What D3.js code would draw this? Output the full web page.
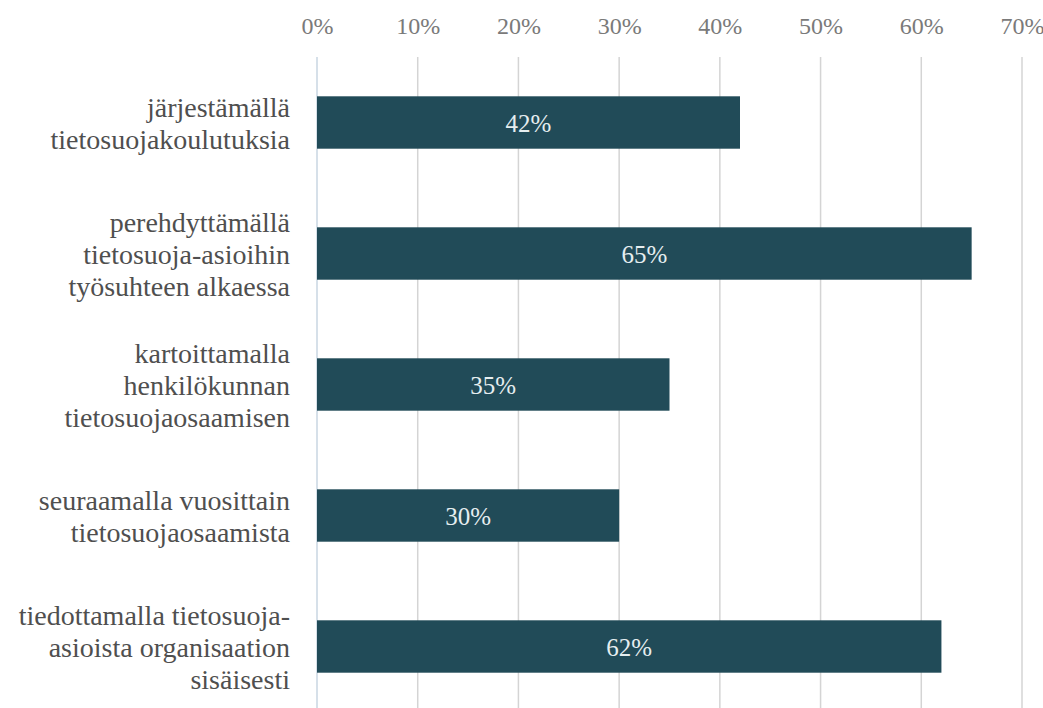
<!DOCTYPE html>
<html>
<head>
<meta charset="utf-8">
<script src="https://cdn.jsdelivr.net/npm/d3@7"></script>
<style>
  body { margin: 0; background: #fff; }
</style>
</head>
<body>
<div id="chart"></div>
<script>
var svgWidth = 1043;
var svgHeight = 708;
var fontFam = "'Liberation Serif', 'Times New Roman', Times, Tinos, 'Noto Serif', 'DejaVu Serif', FreeSerif, serif";

// category labels, already split in lines as in the picture
var categories = [
    ["järjestämällä", "tietosuojakoulutuksia"],
    ["perehdyttämällä", "tietosuoja-asioihin", "työsuhteen alkaessa"],
    ["kartoittamalla", "henkilökunnan", "tietosuojaosaamisen"],
    ["seuraamalla vuosittain", "tietosuojaosaamista"],
    ["tiedottamalla tietosuoja-", "asioista organisaation", "sisäisesti"]
];
var values = [42, 65, 35, 30, 62];
var ticks = [0, 10, 20, 30, 40, 50, 60, 70];

var margin = ({top: 57, right: 21, bottom: -4, left: 317})

var svg = d3.select("#chart")
    .append("svg")
    .attr("width", svgWidth)
    .attr("height", svgHeight)
    .attr("font-family", fontFam);

var xScale = d3.scaleLinear()
    .domain([0, 70])
    .range([margin.left, svgWidth - margin.right]);

var yScale = d3.scaleBand()
    .domain(d3.range(categories.length))
    .range([margin.top, svgHeight - margin.bottom])
    .paddingInner(0.6)
    .paddingOuter(0.3);

// gridlines
svg.append("g")
    .selectAll("line")
    .data(ticks.slice(1))
    .enter()
    .append("line")
    .attr("x1", d => xScale(d))
    .attr("x2", d => xScale(d))
    .attr("y1", margin.top)
    .attr("y2", svgHeight - margin.bottom)
    .attr("stroke", "#d4d4d4")
    .attr("stroke-width", 1.5);

// top axis, only labels
var xAxis = svg.append("g")
    .attr("transform", "translate(0,34)")
    .call(d3.axisTop(xScale).tickValues(ticks).tickFormat(d => d + "%").tickSize(0).tickPadding(0))
    .attr("font-family", fontFam)
    .attr("font-size", 24);
xAxis.select(".domain").remove();
xAxis.selectAll("text")
    .attr("fill", "#7a7a7a")
    .attr("dy", 0);

// left axis line
svg.append("line")
    .attr("x1", xScale(0))
    .attr("x2", xScale(0))
    .attr("y1", margin.top)
    .attr("y2", svgHeight - margin.bottom)
    .attr("stroke", "#c9d6e2")
    .attr("stroke-width", 1.5);

// bars
svg.append("g")
    .selectAll("rect")
    .data(values)
    .enter()
    .append("rect")
    .attr("x", xScale(0))
    .attr("y", (d, i) => yScale(i))
    .attr("width", d => xScale(d) - xScale(0))
    .attr("height", yScale.bandwidth())
    .attr("fill", "#214b58");

// value labels
svg.append("g")
    .selectAll("text")
    .data(values)
    .enter()
    .append("text")
    .attr("x", d => xScale(d / 2))
    .attr("y", (d, i) => yScale(i) + yScale.bandwidth() / 2 + 9)
    .attr("text-anchor", "middle")
    .attr("font-size", 25)
    .attr("fill", "#e6eef0")
    .text(d => d + "%");

// category labels
var lineHeight = 32;
var labels = svg.append("g")
    .selectAll("text")
    .data(categories)
    .enter()
    .append("text")
    .attr("text-anchor", "end")
    .attr("font-size", 28)
    .attr("fill", "#4f4f4f");

labels.selectAll("tspan")
    .data((d, i) => d.map(function(line, j) {
        return {line: line, y: yScale(i) + yScale.bandwidth() / 2 + (j - (d.length - 1) / 2) * lineHeight + 10};
    }))
    .enter()
    .append("tspan")
    .attr("x", 290)
    .attr("y", d => d.y)
    .text(d => d.line);
</script>
</body>
</html>
